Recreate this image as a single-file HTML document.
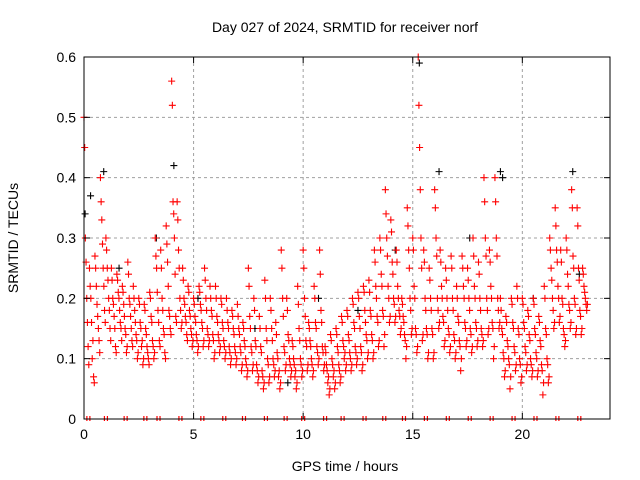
<!DOCTYPE html>
<html><head><meta charset="utf-8"><style>
body{margin:0;background:#fff;}
svg{display:block;font-family:"Liberation Sans",sans-serif;}
</style></head><body>
<svg id="chart" width="640" height="480">
<text x="345" y="32" text-anchor="middle" font-size="14">Day 027 of 2024, SRMTID for receiver norf</text>
<text x="345" y="471" text-anchor="middle" font-size="14">GPS time / hours</text>
<text transform="translate(18,238) rotate(-90)" text-anchor="middle" font-size="14">SRMTID / TECUs</text>
<g id="grid"></g><g id="black"></g><g id="red"></g><g id="axes"></g>
</svg>
<script>
const xTicks=[0,5,10,15,20];
const yTicks=[0,0.1,0.2,0.3,0.4,0.5,0.6];
const yTickLabels=["0","0.1","0.2","0.3","0.4","0.5","0.6"];
const binStart=0, binWidth=0.25;
const redValues=[
[0.5,0.3,0.2,0.12],[0.25,0.2,0.1,0.07],[0.27,0.22,0.17,0.13],[0.4,0.33,0.25,0.18],
[0.3,0.25,0.2,0.15],[0.25,0.2,0.17,0.12],[0.24,0.21,0.18,0.15],[0.22,0.19,0.15,0.11],
[0.26,0.2,0.17,0.13],[0.22,0.18,0.14,0.1],[0.2,0.16,0.12,0.09],[0.19,0.15,0.12,0.1],
[0.21,0.17,0.13,0.1],[0.3,0.25,0.18,0.13],[0.28,0.2,0.15,0.11],[0.32,0.26,0.18,0.15],
[0.56,0.36,0.3,0.17],[0.36,0.28,0.2,0.15],[0.25,0.2,0.17,0.14],[0.22,0.18,0.15,0.12],
[0.2,0.17,0.14,0.11],[0.22,0.19,0.16,0.12],[0.25,0.2,0.15,0.12],[0.22,0.18,0.14,0.1],
[0.22,0.17,0.14,0.11],[0.2,0.16,0.13,0.1],[0.2,0.16,0.12,0.09],[0.18,0.15,0.12,0.09],
[0.19,0.15,0.12,0.08],[0.16,0.13,0.1,0.07],[0.25,0.17,0.12,0.08],[0.2,0.13,0.09,0.06],
[0.17,0.12,0.08,0.05],[0.23,0.15,0.1,0.06],[0.2,0.15,0.1,0.07],[0.16,0.11,0.07,0.05],
[0.28,0.2,0.12,0.08],[0.2,0.14,0.1,0.07],[0.13,0.1,0.07,0.05],[0.22,0.15,0.1,0.07],
[0.28,0.2,0.13,0.08],[0.16,0.13,0.1,0.07],[0.22,0.16,0.12,0.09],[0.28,0.18,0.12,0.08],
[0.12,0.09,0.06,0.04],[0.14,0.1,0.07,0.05],[0.15,0.12,0.09,0.06],[0.17,0.13,0.1,0.08],
[0.18,0.14,0.11,0.08],[0.2,0.16,0.12,0.09],[0.21,0.17,0.12,0.08],[0.22,0.18,0.14,0.1],
[0.23,0.18,0.14,0.1],[0.28,0.22,0.17,0.12],[0.3,0.24,0.18,0.12],[0.38,0.3,0.22,0.16],
[0.33,0.26,0.2,0.16],[0.28,0.22,0.18,0.14],[0.2,0.17,0.14,0.1],[0.35,0.28,0.2,0.14],
[0.3,0.22,0.15,0.11],[0.6,0.45,0.3,0.13],[0.28,0.2,0.15,0.1],[0.25,0.2,0.15,0.1],
[0.38,0.3,0.2,0.15],[0.28,0.22,0.17,0.12],[0.25,0.2,0.15,0.11],[0.27,0.2,0.14,0.1],
[0.22,0.17,0.13,0.08],[0.27,0.22,0.16,0.12],[0.25,0.2,0.15,0.11],[0.3,0.22,0.16,0.12],
[0.26,0.2,0.15,0.12],[0.4,0.3,0.2,0.14],[0.28,0.22,0.16,0.1],[0.4,0.3,0.2,0.15],
[0.2,0.15,0.11,0.07],[0.17,0.13,0.1,0.05],[0.2,0.16,0.12,0.08],[0.22,0.15,0.1,0.06],
[0.2,0.16,0.12,0.08],[0.18,0.14,0.1,0.07],[0.2,0.15,0.11,0.07],[0.17,0.13,0.09,0.04],
[0.22,0.15,0.1,0.06],[0.3,0.25,0.2,0.15],[0.35,0.28,0.22,0.16],[0.28,0.2,0.15,0.12],
[0.3,0.24,0.19,0.15],[0.38,0.27,0.2,0.14],[0.35,0.25,0.18,0.14],[0.25,0.22,0.2,0.18]
];
const redValues2=[
[0.45,0.26,0.16,0.09],[0.22,0.16,0.13,0.06],[0.25,0.19,0.15,0.11],[0.36,0.29,0.22,0.16],
[0.28,0.23,0.18,0.13],[0.23,0.19,0.15,0.11],[0.23,0.2,0.16,0.13],[0.21,0.17,0.14,0.12],
[0.24,0.19,0.15,0.12],[0.2,0.16,0.13,0.11],[0.19,0.15,0.13,0.1],[0.18,0.14,0.11,0.09],
[0.2,0.16,0.12,0.11],[0.27,0.21,0.16,0.12],[0.25,0.18,0.14,0.1],[0.29,0.22,0.17,0.14],
[0.52,0.34,0.24,0.16],[0.33,0.25,0.18,0.16],[0.23,0.19,0.16,0.13],[0.21,0.17,0.14,0.13],
[0.19,0.16,0.13,0.12],[0.21,0.18,0.15,0.13],[0.23,0.18,0.14,0.13],[0.2,0.17,0.13,0.11],
[0.2,0.16,0.13,0.12],[0.19,0.15,0.12,0.11],[0.18,0.15,0.11,0.1],[0.17,0.14,0.11,0.1],
[0.17,0.14,0.11,0.09],[0.15,0.12,0.09,0.08],[0.22,0.15,0.11,0.09],[0.18,0.12,0.08,0.07],
[0.15,0.11,0.07,0.06],[0.2,0.13,0.09,0.07],[0.18,0.13,0.09,0.08],[0.14,0.1,0.08,0.06],
[0.25,0.17,0.11,0.09],[0.18,0.13,0.09,0.08],[0.12,0.09,0.08,0.06],[0.19,0.13,0.09,0.08],
[0.25,0.17,0.12,0.09],[0.15,0.12,0.09,0.08],[0.2,0.15,0.11,0.1],[0.24,0.16,0.11,0.09],
[0.11,0.08,0.07,0.05],[0.13,0.09,0.08,0.06],[0.14,0.11,0.08,0.07],[0.16,0.12,0.11,0.09],
[0.17,0.13,0.1,0.09],[0.19,0.15,0.11,0.1],[0.2,0.15,0.11,0.09],[0.21,0.16,0.13,0.11],
[0.21,0.17,0.13,0.11],[0.26,0.2,0.16,0.13],[0.28,0.22,0.17,0.14],[0.34,0.27,0.2,0.17],
[0.31,0.24,0.19,0.17],[0.26,0.2,0.17,0.15],[0.19,0.16,0.13,0.12],[0.32,0.25,0.18,0.15],
[0.28,0.2,0.14,0.12],[0.52,0.38,0.25,0.14],[0.26,0.18,0.14,0.11],[0.23,0.18,0.14,0.11],
[0.35,0.27,0.18,0.16],[0.26,0.2,0.16,0.13],[0.23,0.18,0.14,0.12],[0.25,0.18,0.13,0.11],
[0.2,0.16,0.12,0.1],[0.25,0.2,0.15,0.13],[0.23,0.18,0.14,0.12],[0.27,0.2,0.15,0.13],
[0.24,0.18,0.14,0.13],[0.36,0.27,0.18,0.15],[0.26,0.2,0.15,0.12],[0.36,0.27,0.18,0.16],
[0.18,0.14,0.1,0.08],[0.16,0.12,0.09,0.07],[0.19,0.15,0.11,0.09],[0.2,0.14,0.09,0.07],
[0.19,0.15,0.11,0.09],[0.17,0.13,0.09,0.08],[0.19,0.14,0.1,0.08],[0.16,0.12,0.08,0.06],
[0.2,0.14,0.09,0.07],[0.28,0.23,0.18,0.16],[0.32,0.26,0.2,0.17],[0.26,0.19,0.14,0.13],
[0.28,0.22,0.18,0.16],[0.35,0.25,0.19,0.15],[0.32,0.23,0.17,0.15],[0.24,0.21,0.19,0.19]
];
const blackTimes=[0.05,0.3,0.9,1.6,3.3,4.1,5.2,7.8,9.3,10.7,12.5,14.2,15.3,16.2,17.6,19.0,19.1,20.5,22.3,22.6];
const blackValues=[0.34,0.37,0.41,0.25,0.3,0.42,0.2,0.15,0.06,0.2,0.18,0.28,0.59,0.41,0.3,0.41,0.4,0.2,0.41,0.24];
const axisMarkTimes=[0.2,1.0,1.9,2.8,3.4,4.4,5.4,6.4,7.3,8.3,9.2,10.0,11.0,11.8,12.8,13.7,14.6,15.6,16.6,17.6,18.6,19.6,20.6,21.6,22.6];
const axisMarkValues=[0,0,0,0,0,0,0,0,0,0,0,0,0,0,0,0,0,0,0,0,0,0,0,0,0];

const NS="http://www.w3.org/2000/svg";
const L=84,R=610,T=57,B=419;
const xs=t=>L+(t/24)*(R-L);
const ys=v=>B-(v/0.6)*(B-T);
function mk(tag,attrs,parent){const e=document.createElementNS(NS,tag);for(const k in attrs)e.setAttribute(k,attrs[k]);parent.appendChild(e);return e;}
const grid=document.getElementById('grid'),axes=document.getElementById('axes');
xTicks.forEach(t=>{
  const x=xs(t);
  if(t>0){const g=mk('line',{x1:x,y1:T,x2:x,y2:B,stroke:'#a0a0a0','stroke-dasharray':'3,3'},grid);
  
  }
  mk('line',{x1:x,y1:B,x2:x,y2:B-6,stroke:'#000'},axes);
  mk('line',{x1:x,y1:T,x2:x,y2:T+6,stroke:'#000'},axes);
  const tx=mk('text',{x:x,y:B+20,'text-anchor':'middle','font-size':'14'},axes);tx.textContent=t;
  
  
});
yTicks.forEach((v,i)=>{
  const y=ys(v);
  if(v>0&&v<0.6){const g=mk('line',{x1:L,y1:y,x2:R,y2:y,stroke:'#a0a0a0','stroke-dasharray':'3,3'},grid);
  
  }
  mk('line',{x1:L,y1:y,x2:L+6,y2:y,stroke:'#000'},axes);
  mk('line',{x1:R,y1:y,x2:R-6,y2:y,stroke:'#000'},axes);
  const tx=mk('text',{x:L-8,y:y+5,'text-anchor':'end','font-size':'14'},axes);tx.textContent=yTickLabels[i];
  
  
});
const fr=mk('rect',{x:L,y:T,width:R-L,height:B-T,fill:'none',stroke:'#000'},axes);


function plus(x,y,col,parent){
  const p=mk('path',{d:`M${x-3.5},${y}h7M${x},${y-3.5}v7`,stroke:col,'stroke-width':'1.1',fill:'none'},parent);
  
  
}
const blackG=document.getElementById('black'),redG=document.getElementById('red');
blackTimes.forEach((t,i)=>plus(xs(t),ys(blackValues[i]),'#000',blackG));
function drawSet(set,offset){
  set.forEach((vals,b)=>{
    vals.forEach((v,k)=>{
      const t=binStart+b*binWidth+k*binWidth/4+offset;
      plus(xs(t),ys(v),'#f00',redG);
    });
  });
}
drawSet(redValues,0);
drawSet(redValues2,binWidth/8);
axisMarkTimes.forEach((t,i)=>{
  const x=xs(t),y=ys(axisMarkValues[i]);
  const p=mk('path',{d:`M${x-1.5},${y-3}v5M${x+1.5},${y-3}v5`,stroke:'#f00','stroke-width':'1.2'},redG);
  
  
});
</script>
</body></html>
